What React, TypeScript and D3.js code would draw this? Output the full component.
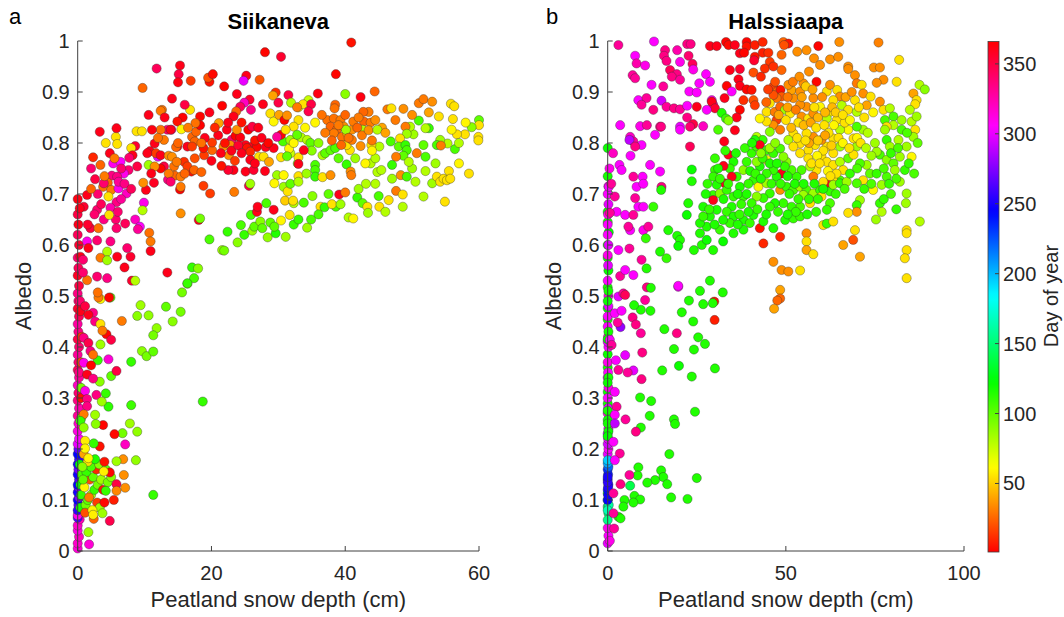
import React from 'react';
import * as d3 from 'd3';

// [snow depth (cm), albedo, day of year]
const siikaneva: [number, number, number][] = [
  // depth ~ 0 column
  [0, 0.005, 315], [0, 0.015, 318], [0.2, 0.028, 320], [0, 0.04, 312], [0, 0.05, 318], [0.3, 0.062, 322], [0, 0.065, 262], [0.1, 0.075, 250],
  [0, 0.07, 310], [0, 0.08, 255], [0.1, 0.09, 265], [0, 0.1, 245], [0.2, 0.105, 275], [0, 0.115, 250], [0.1, 0.125, 270], [0, 0.13, 245],
  [0.2, 0.14, 262], [0, 0.15, 248], [0.1, 0.16, 272], [0, 0.17, 250], [0.2, 0.18, 258], [0, 0.19, 244], [0.1, 0.2, 268], [0, 0.21, 300],
  [0.2, 0.22, 305], [0, 0.235, 312], [0.1, 0.25, 318], [0, 0.265, 330], [0.2, 0.28, 325], [0, 0.295, 335], [0.1, 0.31, 340], [0, 0.325, 320],
  [0.2, 0.34, 330], [0, 0.355, 345], [0.1, 0.37, 338], [0, 0.385, 330], [0.2, 0.4, 340], [0, 0.415, 350], [0.1, 0.43, 335], [0, 0.445, 328],
  [0.2, 0.46, 345], [0, 0.475, 355], [0.1, 0.49, 340], [0, 0.505, 335], [0.2, 0.52, 350], [0, 0.54, 358], [0.1, 0.555, 345], [0, 0.575, 340],
  [0.2, 0.6, 355], [0, 0.62, 345], [0.1, 0.64, 360], [0, 0.66, 350], [0, 0.69, 362],
  [0.4, 0.085, 118], [0.5, 0.11, 110], [0.4, 0.13, 120], [0.6, 0.15, 105], [0.3, 0.17, 125], [0.5, 0.26, 100], [0.5, 0.32, 95],
  [0.5, 0.3, 5], [0.6, 0.42, 15], [0.4, 0.47, 360], [0.5, 0.37, 20],
  // shallow snow, low albedo
  [1.2, 0.09, 95], [1.5, 0.1, 100], [2.0, 0.11, 85], [2.5, 0.12, 110], [1.0, 0.125, 60], [3.0, 0.13, 95], [1.8, 0.14, 20], [2.3, 0.145, 100],
  [3.5, 0.14, 85], [1.3, 0.155, 110], [2.8, 0.16, 10], [2.0, 0.165, 105], [3.2, 0.17, 90], [1.5, 0.175, 55], [4.2, 0.16, 100], [2.6, 0.18, 115],
  [0.9, 0.19, 40], [3.8, 0.12, 5], [4.5, 0.135, 95], [1.7, 0.105, 30], [2.9, 0.095, 15], [3.3, 0.085, 85], [1.1, 0.075, 20], [2.2, 0.08, 60],
  [5.0, 0.145, 90], [5.4, 0.1, 8], [0.8, 0.14, 100], [0.7, 0.165, 90],
  [4.9, 0.497, 100], [9.4, 0.482, 85], [8.9, 0.461, 90], [10.6, 0.462, 88], [13.2, 0.479, 100], [15.4, 0.469, 95], [15.6, 0.507, 95],
  [16.4, 0.524, 92], [14.2, 0.45, 90], [11.8, 0.437, 88], [11.3, 0.423, 95], [9.6, 0.392, 90], [10.3, 0.382, 95], [11.3, 0.391, 100],
  [8.0, 0.371, 110], [5.0, 0.343, 100], [3.3, 0.332, 90], [6.6, 0.451, 30], [4.3, 0.425, 2], [5.0, 0.414, 350], [3.4, 0.405, 85],
  [5.8, 0.353, 350], [4.6, 0.376, 315], [3.0, 0.374, 110], [18.7, 0.293, 110], [8.0, 0.286, 108], [4.6, 0.283, 112], [4.2, 0.309, 110],
  [2.8, 0.306, 335], [3.6, 0.293, 85], [7.8, 0.25, 85], [8.9, 0.234, 88], [6.7, 0.231, 95], [5.5, 0.229, 3], [7.1, 0.209, 320],
  [3.8, 0.247, 2], [2.7, 0.249, 90], [2.6, 0.267, 85], [3.3, 0.205, 5], [2.4, 0.211, 110], [1.1, 0.216, 58], [1.1, 0.201, 60],
  [8.7, 0.178, 88], [6.8, 0.18, 35], [5.8, 0.176, 85], [4.0, 0.175, 5], [1.6, 0.182, 60], [6.9, 0.149, 35], [7.1, 0.124, 35],
  [5.8, 0.131, 350], [5.8, 0.118, 33], [4.8, 0.154, 2], [3.9, 0.156, 58], [11.3, 0.11, 110], [4.2, 0.118, 110], [4.0, 0.095, 3],
  [3.7, 0.074, 85], [4.8, 0.059, 348], [2.4, 0.063, 25], [2.3, 0.071, 58], [1.6, 0.037, 85], [1.7, 0.013, 315],
  [0.35, 0.49, 340], [1.1, 0.48, 350], [2.3, 0.467, 335], [1.6, 0.463, 360], [2.6, 0.45, 335], [0.9, 0.418, 335], [1.6, 0.408, 348],
  [1.9, 0.392, 335], [0.9, 0.369, 310], [2.0, 0.364, 2], [0.2, 0.35, 335], [1.4, 0.346, 360], [2.3, 0.338, 335], [1.1, 0.314, 310],
  [1.4, 0.298, 335], [1.4, 0.284, 335], [0.9, 0.268, 30], [0.4, 0.255, 110], [0.9, 0.242, 88], [3.4, 0.494, 60], [3.1, 0.497, 30],
  [3.0, 0.507, 28], [4.7, 0.497, 2], [3.4, 0.445, 55], [3.7, 0.432, 30], [2.3, 0.385, 28],
  // upper band
  [40.9, 0.997, 5], [28.0, 0.978, 2], [30.4, 0.969, 355], [11.8, 0.946, 345], [15.3, 0.952, 360], [15.1, 0.935, 350], [15.0, 0.919, 362],
  [9.7, 0.908, 25], [16.9, 0.922, 15], [19.7, 0.92, 5], [19.5, 0.928, 20], [20.2, 0.935, 3], [21.9, 0.911, 1], [23.8, 0.896, 360],
  [25.2, 0.932, 360], [24.8, 0.922, 300], [27.2, 0.924, 22], [38.6, 0.935, 2], [42.3, 0.89, 362], [44.4, 0.901, 25], [40.0, 0.896, 90],
  [29.6, 0.899, 12], [31.5, 0.894, 350], [35.9, 0.897, 362], [29.2, 0.893, 40], [31.9, 0.879, 80], [33.0, 0.87, 60], [34.5, 0.884, 75],
  [33.7, 0.876, 55], [34.9, 0.876, 350], [34.5, 0.862, 348], [32.8, 0.87, 30], [38.5, 0.875, 25], [30.0, 0.879, 350], [27.7, 0.876, 360],
  [25.7, 0.885, 355], [24.9, 0.879, 320], [24.3, 0.871, 345], [25.9, 0.865, 335], [23.7, 0.862, 25], [21.6, 0.873, 1], [19.7, 0.86, 360],
  [18.3, 0.852, 2], [21.1, 0.839, 40], [16.8, 0.865, 55], [16.0, 0.875, 350], [14.1, 0.887, 360], [12.6, 0.865, 28], [12.4, 0.863, 30],
  [15.7, 0.85, 1], [14.9, 0.842, 5], [13.4, 0.826, 340], [14.0, 0.826, 325], [15.5, 0.827, 60], [17.1, 0.812, 25], [17.7, 0.822, 25],
  [17.5, 0.803, 25], [16.4, 0.793, 360], [17.1, 0.793, 15], [14.9, 0.793, 355], [14.7, 0.792, 25], [15.9, 0.763, 12], [17.0, 0.744, 5],
  [15.3, 0.709, 2], [14.4, 0.754, 28], [14.5, 0.736, 25], [15.4, 0.734, 30], [16.4, 0.754, 15], [17.4, 0.747, 25], [18.5, 0.743, 25],
  [18.9, 0.776, 15], [20.1, 0.786, 25], [20.1, 0.801, 15], [18.8, 0.716, 15], [19.8, 0.701, 15], [18.3, 0.835, 1], [13.9, 0.826, 360],
  [12.4, 0.826, 28], [12.9, 0.754, 350], [12.4, 0.75, 2], [13.5, 0.728, 335], [12.0, 0.773, 300], [11.5, 0.799, 360], [10.8, 0.784, 360],
  [10.6, 0.757, 85], [10.2, 0.708, 360], [11.4, 0.722, 358], [9.8, 0.722, 35], [8.9, 0.754, 350], [9.9, 0.683, 310], [9.7, 0.668, 80],
  [10.7, 0.624, 28], [10.9, 0.607, 30], [10.9, 0.588, 360], [8.8, 0.823, 55], [9.6, 0.823, 55], [8.6, 0.794, 355], [8.0, 0.79, 55],
  [8.2, 0.776, 360], [7.7, 0.771, 340], [7.6, 0.747, 340], [6.9, 0.74, 310], [5.7, 0.812, 55], [5.8, 0.829, 360], [5.9, 0.798, 55],
  [4.8, 0.78, 360], [5.3, 0.76, 310], [6.4, 0.763, 305], [5.1, 0.736, 335], [3.3, 0.822, 360], [2.3, 0.772, 10], [3.4, 0.757, 25],
  [2.6, 0.729, 350], [4.5, 0.722, 25], [3.8, 0.714, 28], [3.9, 0.721, 340], [5.0, 0.708, 30], [5.9, 0.734, 335], [6.1, 0.711, 310],
  [6.1, 0.724, 330], [7.3, 0.701, 320], [5.8, 0.684, 335], [4.6, 0.695, 55], [1.4, 0.698, 360], [0.9, 0.675, 355], [0.3, 0.672, 360],
  [2.9, 0.669, 340], [4.9, 0.673, 325], [3.9, 0.65, 335], [5.7, 0.65, 340], [4.7, 0.659, 55], [7.1, 0.642, 345], [8.6, 0.65, 320],
  [9.3, 0.636, 305], [9.0, 0.631, 330], [1.9, 0.633, 350], [3.1, 0.633, 28], [5.8, 0.633, 340], [1.4, 0.607, 310], [2.9, 0.609, 340],
  [4.9, 0.607, 335], [4.4, 0.587, 80], [1.6, 0.594, 360], [3.4, 0.575, 30], [5.9, 0.577, 360], [7.9, 0.577, 355], [7.4, 0.594, 340],
  [4.4, 0.57, 85], [0.4, 0.577, 360], [0.8, 0.571, 340], [7.0, 0.556, 360], [8.1, 0.53, 355], [2.9, 0.538, 340], [4.4, 0.535, 335],
  [13.4, 0.546, 360], [8.6, 0.53, 80], [17.1, 0.556, 110], [18.0, 0.554, 90], [17.4, 0.535, 105], [16.4, 0.525, 110], [1.4, 0.531, 28],
  [0.8, 0.546, 340],
  [3.0, 0.7, 340], [4.0, 0.735, 30], [2.0, 0.75, 340], [6.5, 0.75, 340], [7.0, 0.72, 335], [6.5, 0.69, 330], [8.0, 0.71, 345],
  [3.5, 0.68, 345], [2.5, 0.66, 340], [1.5, 0.64, 355], [6.0, 0.665, 340], [2.0, 0.71, 25], [5.5, 0.77, 30], [4.2, 0.8, 55],
  // lower green branch
  [19.7, 0.611, 105], [21.6, 0.59, 85], [21.9, 0.589, 95], [22.4, 0.626, 110], [23.9, 0.605, 90], [24.4, 0.639, 105], [24.9, 0.62, 110],
  [25.9, 0.659, 105], [26.1, 0.628, 85], [26.4, 0.636, 100], [27.3, 0.646, 90], [27.6, 0.633, 100], [28.2, 0.682, 105], [28.8, 0.644, 100],
  [28.4, 0.615, 88], [29.6, 0.623, 115], [29.4, 0.636, 100], [30.4, 0.648, 60], [31.1, 0.616, 85], [32.3, 0.64, 110], [34.3, 0.634, 85],
  [34.9, 0.65, 105], [31.7, 0.659, 55], [26.8, 0.665, 360], [26.9, 0.675, 360], [29.3, 0.669, 360], [31.0, 0.687, 50], [32.3, 0.682, 80],
  [33.8, 0.683, 105], [35.1, 0.696, 90], [36.3, 0.675, 55], [36.9, 0.674, 110], [38.6, 0.675, 105], [38.0, 0.68, 55], [39.3, 0.68, 85],
  [39.1, 0.699, 360], [40.0, 0.703, 30], [41.8, 0.693, 110], [42.6, 0.682, 100], [43.3, 0.675, 55], [43.4, 0.663, 85], [40.5, 0.654, 80],
  [41.2, 0.652, 60], [45.0, 0.696, 105], [45.1, 0.675, 55], [46.0, 0.665, 80], [46.5, 0.688, 55], [47.6, 0.706, 30], [48.6, 0.699, 55],
  [48.6, 0.675, 80], [51.7, 0.695, 80], [54.9, 0.685, 55], [33.0, 0.65, 110], [36.0, 0.66, 105], [37.5, 0.7, 100], [42.0, 0.71, 85],
  [44.5, 0.72, 80], [47.0, 0.73, 85], [50.0, 0.75, 85], [52.0, 0.745, 80], [53.5, 0.76, 85], [57.0, 0.76, 60], [58.5, 0.74, 55],
  [29.8, 0.737, 85], [29.4, 0.721, 60], [30.8, 0.737, 60], [30.8, 0.714, 85], [31.4, 0.705, 55], [32.2, 0.687, 55], [31.8, 0.72, 100],
  [33.0, 0.735, 55], [33.0, 0.724, 80], [32.9, 0.76, 85], [33.0, 0.772, 55], [31.8, 0.78, 75], [31.6, 0.789, 60], [30.4, 0.772, 55],
  [30.7, 0.803, 105], [31.8, 0.806, 85], [32.3, 0.8, 60], [33.4, 0.811, 80], [34.3, 0.806, 80], [34.8, 0.8, 100], [35.0, 0.785, 90],
  [35.5, 0.757, 105], [35.5, 0.747, 105], [35.5, 0.734, 110], [36.6, 0.733, 55], [37.8, 0.737, 35], [34.2, 0.74, 85], [33.0, 0.759, 360],
  [33.8, 0.786, 360], [30.4, 0.816, 2], [29.8, 0.812, 330], [31.3, 0.774, 100], [36.6, 0.776, 80], [37.0, 0.78, 100], [37.8, 0.786, 100],
  [38.5, 0.79, 105], [40.2, 0.758, 110], [40.8, 0.744, 35], [40.9, 0.737, 30], [43.1, 0.72, 80], [43.8, 0.76, 80], [43.0, 0.76, 60],
  [44.5, 0.77, 80], [44.8, 0.743, 80], [45.4, 0.747, 80], [45.1, 0.793, 80], [43.9, 0.796, 55], [42.3, 0.794, 35], [40.7, 0.786, 55],
  [44.0, 0.785, 60], [41.5, 0.77, 85], [39.0, 0.77, 100], [36.0, 0.8, 90], [34.0, 0.83, 60], [33.0, 0.845, 55], [35.5, 0.84, 60],
  // late winter, deep snow
  [37.3, 0.845, 28], [38.3, 0.848, 28], [39.3, 0.845, 30], [37.8, 0.832, 25], [38.8, 0.827, 25], [39.8, 0.832, 35], [38.3, 0.819, 30],
  [39.5, 0.812, 28], [40.3, 0.819, 40], [41.0, 0.826, 35], [41.2, 0.842, 30], [40.2, 0.796, 55], [39.4, 0.796, 25], [41.0, 0.806, 30],
  [42.8, 0.842, 25], [43.8, 0.84, 30], [43.5, 0.861, 30], [42.7, 0.861, 25], [38.4, 0.868, 28], [40.1, 0.826, 85], [42.6, 0.826, 80],
  [37.0, 0.82, 30], [38.0, 0.805, 25], [39.0, 0.835, 30], [40.5, 0.81, 28], [41.8, 0.83, 25], [42.5, 0.815, 30], [43.5, 0.825, 35],
  [44.0, 0.805, 30], [36.5, 0.855, 28], [40.0, 0.855, 25], [42.0, 0.85, 30], [44.5, 0.845, 35], [45.5, 0.83, 40],
  [46.3, 0.866, 30], [46.9, 0.868, 55], [48.7, 0.867, 35], [51.0, 0.878, 30], [51.7, 0.886, 30], [53.0, 0.881, 35], [55.8, 0.877, 55],
  [56.3, 0.872, 55], [54.0, 0.852, 55], [56.1, 0.847, 55], [60.0, 0.845, 100], [60.0, 0.835, 55], [58.9, 0.831, 90], [57.9, 0.817, 55],
  [56.7, 0.817, 55], [55.9, 0.826, 60], [59.9, 0.812, 55], [59.9, 0.805, 55], [56.4, 0.788, 105], [55.3, 0.799, 80], [54.2, 0.806, 85],
  [53.7, 0.796, 105], [54.3, 0.795, 30], [52.5, 0.829, 110], [51.0, 0.844, 105], [52.0, 0.829, 80], [50.2, 0.817, 85], [49.7, 0.832, 80],
  [49.0, 0.832, 30], [49.2, 0.818, 85], [48.2, 0.809, 55], [48.0, 0.793, 100], [49.0, 0.796, 110], [49.2, 0.786, 105], [48.7, 0.775, 100],
  [47.6, 0.773, 30], [47.0, 0.757, 110], [48.3, 0.737, 35], [49.2, 0.734, 105], [49.5, 0.763, 80], [50.5, 0.724, 80], [50.7, 0.78, 30],
  [51.7, 0.796, 100], [52.0, 0.773, 105], [53.0, 0.721, 85], [53.7, 0.734, 55], [54.2, 0.724, 55], [54.7, 0.73, 55], [55.2, 0.727, 55],
  [55.5, 0.745, 55], [55.7, 0.73, 55], [46.8, 0.803, 105], [44.8, 0.826, 80], [57.0, 0.8, 80], [58.0, 0.84, 60], [52.5, 0.86, 40],
  [50.0, 0.855, 35], [47.5, 0.845, 30], [46.0, 0.82, 40],
  // mid winter reds
  [22.3, 0.826, 360], [23.0, 0.806, 340], [23.6, 0.814, 1], [24.3, 0.811, 362], [25.1, 0.796, 360], [26.1, 0.793, 360], [26.8, 0.792, 2],
  [25.3, 0.79, 5], [25.8, 0.783, 10], [27.1, 0.773, 55], [25.8, 0.767, 360], [27.8, 0.773, 55], [28.6, 0.763, 40], [28.1, 0.792, 360],
  [29.3, 0.79, 360], [23.3, 0.747, 360], [22.5, 0.747, 355], [25.1, 0.744, 360], [26.3, 0.747, 355], [25.6, 0.716, 350], [25.8, 0.72, 85],
  [23.4, 0.704, 30], [22.6, 0.776, 35], [21.8, 0.793, 35], [22.8, 0.796, 35], [23.3, 0.852, 360], [23.8, 0.826, 35], [25.5, 0.826, 1],
  [26.1, 0.832, 350], [28.8, 0.858, 55], [29.3, 0.842, 60], [30.1, 0.855, 40], [30.9, 0.845, 2], [32.3, 0.832, 55], [31.1, 0.826, 55],
  [32.8, 0.816, 100], [31.3, 0.854, 35],
  [21.0, 0.815, 360], [22.0, 0.8, 5], [23.0, 0.785, 360], [24.0, 0.795, 355], [24.5, 0.78, 360], [26.5, 0.805, 5], [27.5, 0.81, 360],
  [28.5, 0.8, 2], [27.0, 0.83, 360], [24.5, 0.84, 5], [22.5, 0.84, 360], [20.5, 0.83, 10], [19.0, 0.81, 360], [20.0, 0.765, 360],
  [21.5, 0.755, 5], [23.5, 0.765, 15], [26.5, 0.76, 360], [28.0, 0.745, 360],
  [12.9, 0.806, 30], [11.7, 0.78, 15], [12.4, 0.776, 360], [11.5, 0.754, 35], [10.4, 0.78, 360], [10.6, 0.855, 360], [11.1, 0.826, 362],
  [17.6, 0.839, 28], [18.8, 0.79, 5], [21.4, 0.78, 360], [13.6, 0.775, 35], [14.1, 0.773, 35], [14.8, 0.763, 30], [13.6, 0.74, 30],
  [15.4, 0.714, 30], [13.9, 0.724, 340], [18.1, 0.649, 360], [18.3, 0.652, 95], [15.4, 0.662, 35], [16.0, 0.74, 25], [17.5, 0.77, 20],
  [15.0, 0.8, 25], [18.5, 0.8, 28], [16.5, 0.83, 30], [13.0, 0.85, 360], [12.0, 0.81, 28], [11.0, 0.74, 360],
];

const halssiaapa: [number, number, number][] = [
  // depth ~ 0 column
  [0, 0.79, 120], [0, 0.735, 118], [0.2, 0.7, 115], [0, 0.665, 120], [0, 0.645, 118], [0.3, 0.625, 122], [0, 0.6, 120], [0, 0.575, 118],
  [0.2, 0.55, 120], [0, 0.517, 118], [0, 0.476, 120], [0, 0.454, 118], [0, 0.386, 120], [0, 0.36, 118], [0, 0.312, 120], [0, 0.289, 118],
  [0, 0.015, 300], [0.2, 0.03, 305], [0, 0.045, 310], [0, 0.19, 300], [0.2, 0.2, 305], [0, 0.21, 295], [0.1, 0.22, 300], [0, 0.23, 290],
  [0.2, 0.24, 305], [0, 0.27, 310], [0.1, 0.28, 300], [0, 0.3, 305], [0.2, 0.32, 310], [0, 0.34, 300], [0.1, 0.35, 305], [0, 0.37, 310],
  [0.2, 0.4, 305], [0, 0.41, 300], [0.1, 0.42, 315], [0, 0.44, 305], [0.2, 0.5, 310], [0, 0.53, 305], [0.1, 0.56, 300], [0, 0.62, 305],
  [0.2, 0.68, 300], [0, 0.7, 305], [0.2, 0.715, 310], [0.3, 0.714, 305], [1.0, 0.72, 330], [2.0, 0.695, 330], [0.5, 0.75, 310], [1.5, 0.78, 320],
  [0, 0.46, 305], [0.2, 0.48, 300], [0, 0.58, 310], [0.2, 0.6, 300], [0, 0.64, 305], [0.1, 0.66, 310],
  [0.2, 0.51, 118], [0, 0.49, 120], [0.2, 0.43, 118], [0, 0.415, 120], [0.2, 0.34, 118], [0, 0.33, 120], [0, 0.275, 118], [0.2, 0.235, 120],
  [0, 0.225, 122],
  [0, 0.257, 120], [0, 0.25, 118], [0, 0.113, 135], [0, 0.1, 140], [0, 0.087, 145], [0.2, 0.074, 150], [0, 0.061, 155], [0.3, 0.09, 160],
  [0, 0.08, 165], [0, 0.1, 245], [0.1, 0.11, 248], [0, 0.12, 242], [0.2, 0.13, 250], [0, 0.14, 245], [0.1, 0.15, 240], [0, 0.16, 235],
  [0.2, 0.165, 220], [0, 0.172, 205], [0.1, 0.125, 252], [0, 0.135, 255], [0, 0.145, 250], [0, 0.178, 195],
  // early winter, upper left
  [3.0, 0.992, 330], [13.0, 0.999, 305], [7.7, 0.971, 305], [8.1, 0.956, 325], [10.5, 0.952, 310], [7.0, 0.933, 330], [7.7, 0.927, 330],
  [12.3, 0.914, 305], [16.1, 0.982, 335], [15.8, 0.971, 335], [16.5, 0.961, 335], [17.5, 0.943, 345], [19.4, 0.935, 335], [19.5, 0.982, 325],
  [22.3, 0.994, 335], [23.3, 0.994, 335], [22.7, 0.971, 340], [23.8, 0.955, 345], [24.0, 0.944, 310], [20.3, 0.959, 310], [18.0, 0.93, 335],
  [20.3, 0.924, 330], [15.6, 0.911, 330], [8.6, 0.884, 305], [10.9, 0.888, 330], [9.5, 0.875, 330], [12.8, 0.865, 335], [15.1, 0.883, 295],
  [16.5, 0.871, 330], [18.6, 0.868, 335], [20.3, 0.866, 330], [22.3, 0.873, 305], [22.9, 0.901, 305], [25.0, 0.899, 305], [25.7, 0.917, 305],
  [27.6, 0.935, 305], [28.7, 0.92, 305], [29.2, 0.884, 310], [29.6, 0.875, 330], [25.0, 0.871, 360], [22.3, 0.85, 335], [24.0, 0.837, 350],
  [26.8, 0.833, 320], [23.1, 0.832, 340], [14.7, 0.832, 335], [20.3, 0.832, 300], [9.1, 0.833, 310], [11.0, 0.835, 330], [3.5, 0.835, 305],
  [15.0, 0.832, 335], [13.3, 0.816, 305], [6.3, 0.812, 320], [7.2, 0.803, 330], [6.1, 0.806, 290], [9.5, 0.796, 305], [7.7, 0.793, 335],
  [23.1, 0.793, 345], [20.3, 0.826, 305], [6.4, 0.775, 305], [3.3, 0.757, 305], [3.9, 0.747, 305], [11.9, 0.757, 305], [9.8, 0.734, 305],
  [7.2, 0.734, 330], [14.7, 0.744, 305], [8.1, 0.714, 305], [10.0, 0.72, 305], [7.7, 0.692, 330], [8.6, 0.675, 305], [10.0, 0.675, 305],
  [12.8, 0.675, 110], [15.1, 0.714, 335], [15.0, 0.708, 115], [2.5, 0.665, 305], [0.6, 0.663, 330], [4.9, 0.659, 305], [7.2, 0.659, 330],
  [6.3, 0.629, 305], [5.8, 0.636, 330], [10.0, 0.629, 310], [11.4, 0.636, 330], [10.7, 0.613, 110], [6.1, 0.593, 330], [3.0, 0.59, 305],
  [9.5, 0.571, 330], [10.9, 0.554, 115], [7.2, 0.541, 305], [3.5, 0.539, 330], [4.9, 0.551, 305], [14.7, 0.587, 115], [16.5, 0.574, 110],
  [19.8, 0.518, 305], [23.6, 0.748, 120], [23.6, 0.725, 115], [22.6, 0.682, 115], [22.2, 0.659, 120], [17.0, 0.629, 115], [19.5, 0.618, 115],
  [20.3, 0.61, 115], [19.8, 0.598, 120], [24.2, 0.59, 115], [26.4, 0.6, 115],
  // mid winter, top
  [28.7, 0.99, 360], [30.6, 0.99, 360], [33.2, 0.998, 2], [33.9, 0.992, 3], [35.7, 0.992, 360], [39.0, 0.998, 2], [39.0, 0.989, 5],
  [41.3, 0.992, 8], [43.5, 0.998, 10], [37.1, 0.976, 360], [38.3, 0.977, 2], [41.3, 0.969, 5], [43.5, 0.977, 8], [45.1, 0.977, 12],
  [41.1, 0.962, 355], [45.5, 0.959, 15], [44.1, 0.946, 12], [46.5, 0.95, 12], [34.3, 0.943, 360], [37.1, 0.945, 355], [40.9, 0.938, 20],
  [49.3, 0.998, 25], [50.7, 0.995, 5], [49.5, 0.992, 20], [48.8, 0.973, 25], [48.8, 0.943, 25], [59.1, 0.99, 2], [53.2, 0.979, 35],
  [55.8, 0.982, 35], [57.9, 0.966, 35], [59.6, 0.953, 35], [62.4, 0.964, 35], [65.0, 0.998, 35], [64.7, 0.969, 35], [67.5, 0.95, 35],
  [67.5, 0.945, 35], [76.0, 0.997, 32], [74.7, 0.948, 35], [76.4, 0.948, 35], [81.8, 0.963, 55], [77.4, 0.924, 35], [75.5, 0.918, 35],
  [81.1, 0.92, 55], [87.5, 0.914, 80], [89.0, 0.905, 90], [85.8, 0.897, 40], [86.7, 0.884, 55], [86.3, 0.876, 55], [84.8, 0.865, 80],
  [36.7, 0.925, 360], [37.1, 0.912, 360], [33.4, 0.912, 2], [32.8, 0.888, 360], [34.8, 0.901, 305], [37.1, 0.865, 2], [36.2, 0.85, 360],
  [35.7, 0.825, 360], [38.1, 0.884, 12], [39.0, 0.905, 2], [40.4, 0.904, 5], [40.9, 0.884, 20], [41.3, 0.874, 15], [29.2, 0.881, 360],
  [30.1, 0.868, 355], [27.8, 0.865, 305], [32.7, 0.803, 360], [33.9, 0.777, 360], [32.0, 0.859, 115], [33.2, 0.848, 110], [33.9, 0.844, 90],
  [31.0, 0.826, 105],
  // dense core
  [46.5, 0.911, 15], [47.6, 0.901, 25], [48.5, 0.904, 5], [48.8, 0.891, 22], [47.4, 0.888, 28], [46.5, 0.894, 20], [45.5, 0.878, 55],
  [44.6, 0.861, 55], [46.9, 0.861, 30], [48.4, 0.871, 25], [47.4, 0.845, 15], [46.5, 0.835, 35], [44.6, 0.842, 55], [42.7, 0.848, 60],
  [41.8, 0.812, 80], [43.5, 0.806, 110], [45.5, 0.822, 90], [48.4, 0.826, 30], [49.8, 0.865, 85], [51.2, 0.858, 55], [52.1, 0.888, 35],
  [51.6, 0.904, 40], [50.7, 0.914, 35], [54.0, 0.901, 35], [54.9, 0.917, 35], [55.6, 0.911, 50], [58.6, 0.92, 2], [57.7, 0.888, 35],
  [55.8, 0.871, 35], [54.0, 0.875, 35], [54.4, 0.852, 35], [56.3, 0.848, 55], [57.7, 0.858, 35], [59.6, 0.871, 60], [61.5, 0.901, 55],
  [62.4, 0.914, 35], [64.4, 0.904, 55], [65.2, 0.891, 35], [63.3, 0.884, 55], [65.7, 0.874, 80], [69.4, 0.933, 35], [69.9, 0.917, 30],
  [71.3, 0.914, 55], [71.7, 0.897, 35], [69.4, 0.884, 55], [67.5, 0.865, 55], [69.9, 0.861, 80], [72.7, 0.874, 40], [73.8, 0.891, 55],
  [76.4, 0.881, 35], [77.4, 0.865, 55], [79.2, 0.868, 80], [77.8, 0.845, 105], [80.2, 0.852, 105], [80.2, 0.835, 80], [78.3, 0.832, 55],
  [82.5, 0.845, 85], [85.3, 0.842, 80], [86.7, 0.852, 85], [86.3, 0.826, 55], [82.5, 0.826, 105], [85.8, 0.812, 85], [81.6, 0.806, 80],
  [77.8, 0.826, 85], [78.3, 0.806, 110], [79.2, 0.793, 85], [76.4, 0.777, 105], [75.5, 0.783, 85], [78.3, 0.767, 90], [80.2, 0.76, 100],
  [82.0, 0.773, 85], [83.9, 0.793, 85], [85.3, 0.773, 60], [83.4, 0.747, 110], [82.0, 0.724, 85], [83.9, 0.701, 85], [83.7, 0.682, 85],
  [80.6, 0.747, 85], [78.3, 0.734, 105], [76.9, 0.718, 85], [76.4, 0.682, 110], [76.9, 0.665, 80], [75.3, 0.65, 85], [74.5, 0.708, 60],
  [73.6, 0.74, 100], [71.7, 0.727, 55], [72.7, 0.757, 85], [70.8, 0.76, 105], [69.9, 0.793, 85], [69.0, 0.809, 55], [71.7, 0.826, 85],
  [69.9, 0.832, 105], [67.5, 0.826, 60], [65.2, 0.826, 80], [64.3, 0.845, 55], [62.4, 0.861, 55], [61.5, 0.848, 80], [63.3, 0.809, 55],
  [65.2, 0.793, 85], [63.3, 0.78, 55], [61.5, 0.793, 55], [60.0, 0.806, 35], [57.7, 0.812, 35], [55.8, 0.819, 55], [58.2, 0.796, 55],
  [56.3, 0.786, 55], [54.0, 0.799, 55], [52.1, 0.819, 55], [50.7, 0.806, 80], [52.1, 0.793, 55], [54.0, 0.78, 55], [56.3, 0.77, 55],
  [60.0, 0.773, 55], [61.5, 0.763, 55], [63.3, 0.757, 55], [65.2, 0.763, 80], [67.5, 0.77, 100], [69.0, 0.777, 55], [66.1, 0.747, 55],
  [65.2, 0.727, 105], [63.3, 0.727, 55], [61.5, 0.721, 360], [60.5, 0.724, 55], [58.6, 0.747, 55], [57.7, 0.734, 30], [56.8, 0.754, 80],
  [50.5, 0.87, 40], [52.8, 0.865, 30], [53.5, 0.84, 55], [55.0, 0.835, 45], [57.0, 0.84, 40], [58.5, 0.83, 55], [59.0, 0.85, 45],
  [60.8, 0.835, 55], [62.0, 0.82, 55], [63.5, 0.835, 60], [64.8, 0.81, 55], [66.5, 0.84, 55], [66.0, 0.8, 60], [67.8, 0.79, 55],
  [62.8, 0.795, 50], [60.5, 0.785, 55], [58.8, 0.775, 60], [57.2, 0.76, 55], [59.5, 0.76, 55], [61.8, 0.745, 60], [64.2, 0.74, 55],
  [62.5, 0.735, 55], [56.5, 0.8, 40], [53.2, 0.81, 55], [51.5, 0.83, 45], [50.0, 0.845, 55], [57.5, 0.905, 40], [60.2, 0.89, 35],
  [63.0, 0.87, 45], [66.8, 0.89, 40], [68.5, 0.9, 35], [70.5, 0.87, 55], [72.0, 0.85, 55], [74.5, 0.86, 60], [73.0, 0.82, 80],
  [75.0, 0.8, 85], [52.0, 0.92, 30], [53.8, 0.93, 35], [56.5, 0.94, 35], [47.0, 0.92, 20], [45.0, 0.905, 15], [43.0, 0.93, 10],
  [44.5, 0.88, 25], [48.0, 0.855, 40], [50.5, 0.89, 30], [54.5, 0.89, 40], [58.0, 0.87, 55], [61.0, 0.86, 45], [64.0, 0.86, 50],
  [66.0, 0.855, 55], [68.0, 0.845, 60], [70.0, 0.81, 60], [71.0, 0.8, 55], [72.5, 0.79, 80], [74.0, 0.775, 85], [61.0, 0.815, 40],
  [59.0, 0.805, 50], [55.5, 0.805, 55],
  // spring, green cloud
  [54.4, 0.747, 105], [53.0, 0.734, 110], [51.6, 0.747, 105], [50.2, 0.763, 90], [48.8, 0.74, 360], [49.7, 0.754, 110], [47.4, 0.734, 115],
  [46.5, 0.747, 110], [44.6, 0.74, 110], [42.7, 0.754, 115], [41.8, 0.763, 90], [40.9, 0.727, 110], [42.3, 0.714, 60], [44.6, 0.721, 85],
  [45.5, 0.701, 110], [48.4, 0.708, 35], [50.2, 0.714, 110], [52.1, 0.708, 105], [54.0, 0.714, 85], [55.8, 0.708, 105], [57.7, 0.701, 85],
  [59.6, 0.708, 110], [62.4, 0.705, 110], [63.3, 0.718, 85], [65.2, 0.721, 110], [67.1, 0.724, 85], [69.9, 0.721, 105], [70.8, 0.688, 85],
  [69.9, 0.678, 110], [69.9, 0.665, 35], [67.5, 0.663, 55], [62.4, 0.682, 105], [61.5, 0.669, 110], [60.0, 0.695, 55], [56.8, 0.682, 55],
  [54.9, 0.698, 85], [54.0, 0.675, 105], [51.6, 0.675, 110], [49.3, 0.682, 110], [46.9, 0.682, 115], [45.5, 0.675, 110], [43.7, 0.692, 110],
  [41.8, 0.695, 90], [40.4, 0.682, 110], [38.1, 0.695, 110], [37.1, 0.714, 115], [36.2, 0.734, 110], [38.1, 0.747, 90], [39.0, 0.763, 110],
  [40.4, 0.78, 110], [41.8, 0.793, 110], [41.3, 0.806, 115], [42.7, 0.796, 360], [44.6, 0.786, 110], [46.5, 0.78, 110], [48.4, 0.789, 105],
  [49.3, 0.773, 90], [44.6, 0.767, 60], [35.3, 0.763, 115], [34.3, 0.75, 110], [34.8, 0.734, 360], [32.9, 0.721, 360], [32.5, 0.755, 360],
  [30.1, 0.77, 110], [30.1, 0.747, 110], [29.6, 0.734, 110], [30.6, 0.718, 115], [29.6, 0.698, 110], [31.5, 0.701, 90], [33.4, 0.708, 110],
  [35.3, 0.695, 110], [34.8, 0.675, 115], [33.4, 0.665, 110], [35.3, 0.656, 115], [34.3, 0.643, 110], [32.4, 0.649, 115], [30.6, 0.669, 115],
  [29.6, 0.688, 360], [28.7, 0.656, 115], [26.8, 0.675, 115], [27.8, 0.636, 115], [25.9, 0.643, 115], [26.8, 0.656, 110], [25.9, 0.623, 115],
  [27.8, 0.61, 120], [29.6, 0.59, 115], [32.4, 0.607, 120], [35.3, 0.623, 115], [38.1, 0.649, 115], [38.1, 0.63, 115], [39.9, 0.643, 110],
  [40.9, 0.659, 115], [42.7, 0.633, 5], [43.7, 0.646, 115], [46.5, 0.633, 115], [48.4, 0.616, 10], [49.8, 0.649, 115], [52.1, 0.652, 110],
  [54.0, 0.656, 110], [55.8, 0.623, 35], [55.8, 0.607, 55], [55.8, 0.59, 40], [57.7, 0.582, 55], [60.5, 0.639, 55], [61.5, 0.642, 110],
  [63.3, 0.646, 55], [66.1, 0.6, 40], [69.4, 0.629, 55], [68.9, 0.61, 20], [70.8, 0.577, 40], [48.8, 0.551, 35], [50.7, 0.548, 35],
  [54.0, 0.55, 55], [46.5, 0.567, 35], [43.7, 0.603, 10], [83.9, 0.629, 55], [83.9, 0.623, 55], [83.9, 0.59, 55], [83.4, 0.574, 55],
  [83.9, 0.535, 55], [87.6, 0.646, 80],
  [31.5, 0.73, 110], [32.5, 0.69, 115], [33.8, 0.72, 110], [36.5, 0.7, 115], [37.5, 0.68, 110], [39.0, 0.7, 115], [39.5, 0.72, 110],
  [40.0, 0.745, 115], [41.5, 0.74, 110], [43.0, 0.73, 115], [43.5, 0.77, 110], [45.5, 0.76, 115], [46.0, 0.72, 110], [47.5, 0.76, 115],
  [48.5, 0.72, 110], [50.5, 0.735, 115], [51.0, 0.7, 110], [52.5, 0.72, 115], [53.5, 0.69, 110], [55.0, 0.72, 115], [56.5, 0.69, 110],
  [58.0, 0.72, 115], [59.0, 0.69, 110], [60.5, 0.71, 115], [58.5, 0.665, 110], [56.0, 0.66, 115], [52.8, 0.665, 110], [50.5, 0.66, 115],
  [47.8, 0.665, 110], [44.5, 0.66, 115], [42.0, 0.67, 110], [39.5, 0.665, 115], [37.0, 0.66, 110], [36.5, 0.64, 115], [31.5, 0.63, 110],
  [30.0, 0.64, 115], [28.5, 0.67, 110], [27.5, 0.7, 115], [28.0, 0.72, 110], [31.0, 0.75, 115], [33.0, 0.785, 110], [36.0, 0.78, 115],
  [38.5, 0.79, 110], [40.5, 0.8, 115], [43.0, 0.78, 90], [45.5, 0.79, 85], [47.0, 0.8, 90], [64.0, 0.7, 110], [66.5, 0.71, 105],
  [68.0, 0.74, 110], [70.0, 0.75, 105], [72.0, 0.71, 110], [74.0, 0.72, 105], [75.5, 0.74, 110], [77.5, 0.75, 105], [79.0, 0.72, 110],
  [81.0, 0.73, 105], [79.5, 0.78, 110], [81.5, 0.79, 105], [84.5, 0.76, 110], [84.0, 0.82, 105], [87.0, 0.8, 100], [86.0, 0.74, 105],
  [77.5, 0.69, 110], [79.5, 0.7, 105], [81.0, 0.67, 110],
  // spring melt, lower part
  [11.0, 0.517, 335], [12.1, 0.516, 115], [19.8, 0.52, 305], [25.9, 0.51, 115], [32.3, 0.507, 115], [28.7, 0.53, 115], [29.9, 0.489, 5],
  [29.5, 0.486, 115], [26.8, 0.484, 115], [22.8, 0.491, 115], [20.8, 0.468, 115], [12.0, 0.471, 115], [9.3, 0.473, 115], [7.4, 0.482, 115],
  [10.5, 0.492, 330], [7.0, 0.458, 335], [7.9, 0.444, 335], [9.3, 0.427, 330], [19.4, 0.427, 335], [24.0, 0.45, 115], [30.0, 0.453, 8],
  [15.9, 0.435, 115], [25.4, 0.419, 115], [27.3, 0.406, 115], [18.6, 0.396, 115], [24.2, 0.395, 115], [9.7, 0.389, 335], [4.9, 0.384, 300],
  [20.0, 0.363, 120], [15.3, 0.354, 115], [30.1, 0.358, 115], [23.6, 0.342, 115], [9.5, 0.337, 335], [7.2, 0.354, 300], [9.1, 0.301, 115],
  [12.2, 0.294, 115], [24.5, 0.273, 115], [11.8, 0.265, 115], [18.6, 0.258, 115], [18.9, 0.249, 115], [9.3, 0.242, 115], [7.9, 0.234, 335],
  [5.0, 0.258, 330], [17.3, 0.19, 115], [8.6, 0.164, 115], [8.4, 0.148, 115], [15.0, 0.158, 115], [15.6, 0.145, 115], [13.3, 0.139, 115],
  [11.1, 0.134, 115], [16.7, 0.131, 115], [25.0, 0.143, 115], [6.3, 0.128, 140], [6.1, 0.149, 330], [3.6, 0.131, 335], [17.8, 0.105, 115],
  [22.4, 0.102, 115], [7.5, 0.108, 115], [9.1, 0.101, 115], [7.2, 0.095, 115], [4.7, 0.1, 115], [4.4, 0.087, 115], [3.0, 0.067, 115],
  [3.6, 0.064, 115], [1.8, 0.044, 330], [0.6, 0.02, 310], [48.4, 0.512, 40], [48.4, 0.495, 25], [47.6, 0.491, 25], [46.7, 0.475, 40],
  [3.6, 0.439, 280], [2.8, 0.448, 330], [2.0, 0.466, 305], [3.9, 0.471, 305], [0.6, 0.414, 305], [1.1, 0.404, 330], [2.3, 0.374, 305],
  [3.0, 0.355, 330], [5.6, 0.35, 330], [2.0, 0.312, 305], [2.5, 0.283, 330], [2.0, 0.267, 305], [2.0, 0.25, 290], [1.6, 0.214, 305],
  [3.4, 0.191, 330], [2.0, 0.178, 305], [1.6, 0.113, 330], [1.6, 0.074, 330], [3.0, 0.499, 300], [4.4, 0.505, 330], [4.9, 0.502, 345],
];

const albedoTicks = [0, 0.1, 0.2, 0.3, 0.4, 0.5, 0.6, 0.7, 0.8, 0.9, 1];
const siikanevaDepthTicks = [0, 20, 40, 60];
const halssiaapaDepthTicks = [0, 50, 100];
const dayTicks = [50, 100, 150, 200, 250, 300, 350];
const dayRange: [number, number] = [1, 366];

const font = '"Liberation Sans", Arial, Helvetica, sans-serif';
const ink = '#262626';
const axisColor = '#404040';

const dayColor = (day: number) =>
  d3.hsl(((day - dayRange[0]) / (dayRange[1] - dayRange[0])) * 360, 1, 0.5).formatHex();

interface PanelProps {
  data: [number, number, number][];
  xMax: number;
  xTicks: number[];
  left: number;
  right: number;
  title: string;
  letter: string;
  letterX: number;
}

const Panel: React.FC<PanelProps> = ({ data, xMax, xTicks, left, right, title, letter, letterX }) => {
  const x = d3.scaleLinear().domain([0, xMax]).range([left, right]);
  const y = d3.scaleLinear().domain([0, 1]).range([551, 41]);
  const y0 = y(0);
  const labelFmt = d3.format('');
  return (
    <g>
      {/* markers */}
      <g stroke="#333" strokeWidth={0.5} strokeOpacity={0.75}>
        {data.map((d, i) => (
          <circle key={i} cx={x(d[0])} cy={y(d[1])} r={4.6} fill={dayColor(d[2])} />
        ))}
      </g>
      {/* axes */}
      <g stroke={axisColor} strokeWidth={1} fill="none">
        <line x1={x(0)} x2={x(0)} y1={y(0)} y2={y(1)} />
        <line x1={x(0)} x2={x(xMax)} y1={y0} y2={y0} />
        {albedoTicks.map((t) => (
          <line key={t} x1={x(0)} x2={x(0) + 5} y1={y(t)} y2={y(t)} />
        ))}
        {xTicks.map((t) => (
          <line key={t} x1={x(t)} x2={x(t)} y1={y0} y2={y0 - 5} />
        ))}
      </g>
      <g fill={ink} fontFamily={font} fontSize={20}>
        {albedoTicks.map((t) => (
          <text key={t} x={x(0) - 8} y={y(t) + 7} textAnchor="end">
            {labelFmt(t)}
          </text>
        ))}
        {xTicks.map((t) => (
          <text key={t} x={x(t)} y={580} textAnchor="middle">
            {t}
          </text>
        ))}
      </g>
      <text x={(left + right) / 2} y={607} textAnchor="middle" fontFamily={font} fontSize={22} fill={ink}>
        Peatland snow depth (cm)
      </text>
      <text
        transform={`translate(${left - 47},${(y(0) + y(1)) / 2}) rotate(-90)`}
        textAnchor="middle"
        fontFamily={font}
        fontSize={22}
        fill={ink}
      >
        Albedo
      </text>
      <text x={(left + right) / 2} y={29} textAnchor="middle" fontFamily={font} fontSize={22} fontWeight="bold" fill="#000">
        {title}
      </text>
      <text x={letterX} y={24} fontFamily={font} fontSize={22} fill="#000">
        {letter}
      </text>
    </g>
  );
};

const Colorbar: React.FC = () => {
  const c = d3.scaleLinear().domain(dayRange).range([552, 41.5]);
  const x0 = 988;
  const w = 11;
  const stops = d3.range(dayRange[0], dayRange[1] + 1, 5).concat([dayRange[1]]);
  return (
    <g>
      <defs>
        <linearGradient id="hsvGrad" x1="0" y1="1" x2="0" y2="0">
          {stops.map((s) => (
            <stop
              key={s}
              offset={(s - dayRange[0]) / (dayRange[1] - dayRange[0])}
              stopColor={dayColor(s)}
            />
          ))}
        </linearGradient>
      </defs>
      <rect x={x0} y={c(dayRange[1])} width={w} height={c(dayRange[0]) - c(dayRange[1])} fill="url(#hsvGrad)" stroke={axisColor} strokeWidth={0.8} />
      <g stroke={axisColor} strokeWidth={1}>
        {dayTicks.map((t) => (
          <line key={t} x1={x0 + w - 4} x2={x0 + w} y1={c(t)} y2={c(t)} />
        ))}
      </g>
      <g fill={ink} fontFamily={font} fontSize={20}>
        {dayTicks.map((t) => (
          <text key={t} x={x0 + w + 4} y={c(t) + 7}>
            {t}
          </text>
        ))}
      </g>
      <text transform="translate(1058,296) rotate(-90)" textAnchor="middle" fontFamily={font} fontSize={20} fill={ink}>
        Day of year
      </text>
    </g>
  );
};

const App: React.FC = () => (
  <svg
    width={1064}
    height={617}
    style={{ position: 'absolute', left: 0, top: 0, background: '#fff' }}
  >
    <Panel
      data={siikaneva}
      xMax={60}
      xTicks={siikanevaDepthTicks}
      left={77.7}
      right={479}
      title="Siikaneva"
      letter="a"
      letterX={9}
    />
    <Panel
      data={halssiaapa}
      xMax={100}
      xTicks={halssiaapaDepthTicks}
      left={607.7}
      right={964}
      title="Halssiaapa"
      letter="b"
      letterX={546}
    />
    <Colorbar />
  </svg>
);

export default App;
